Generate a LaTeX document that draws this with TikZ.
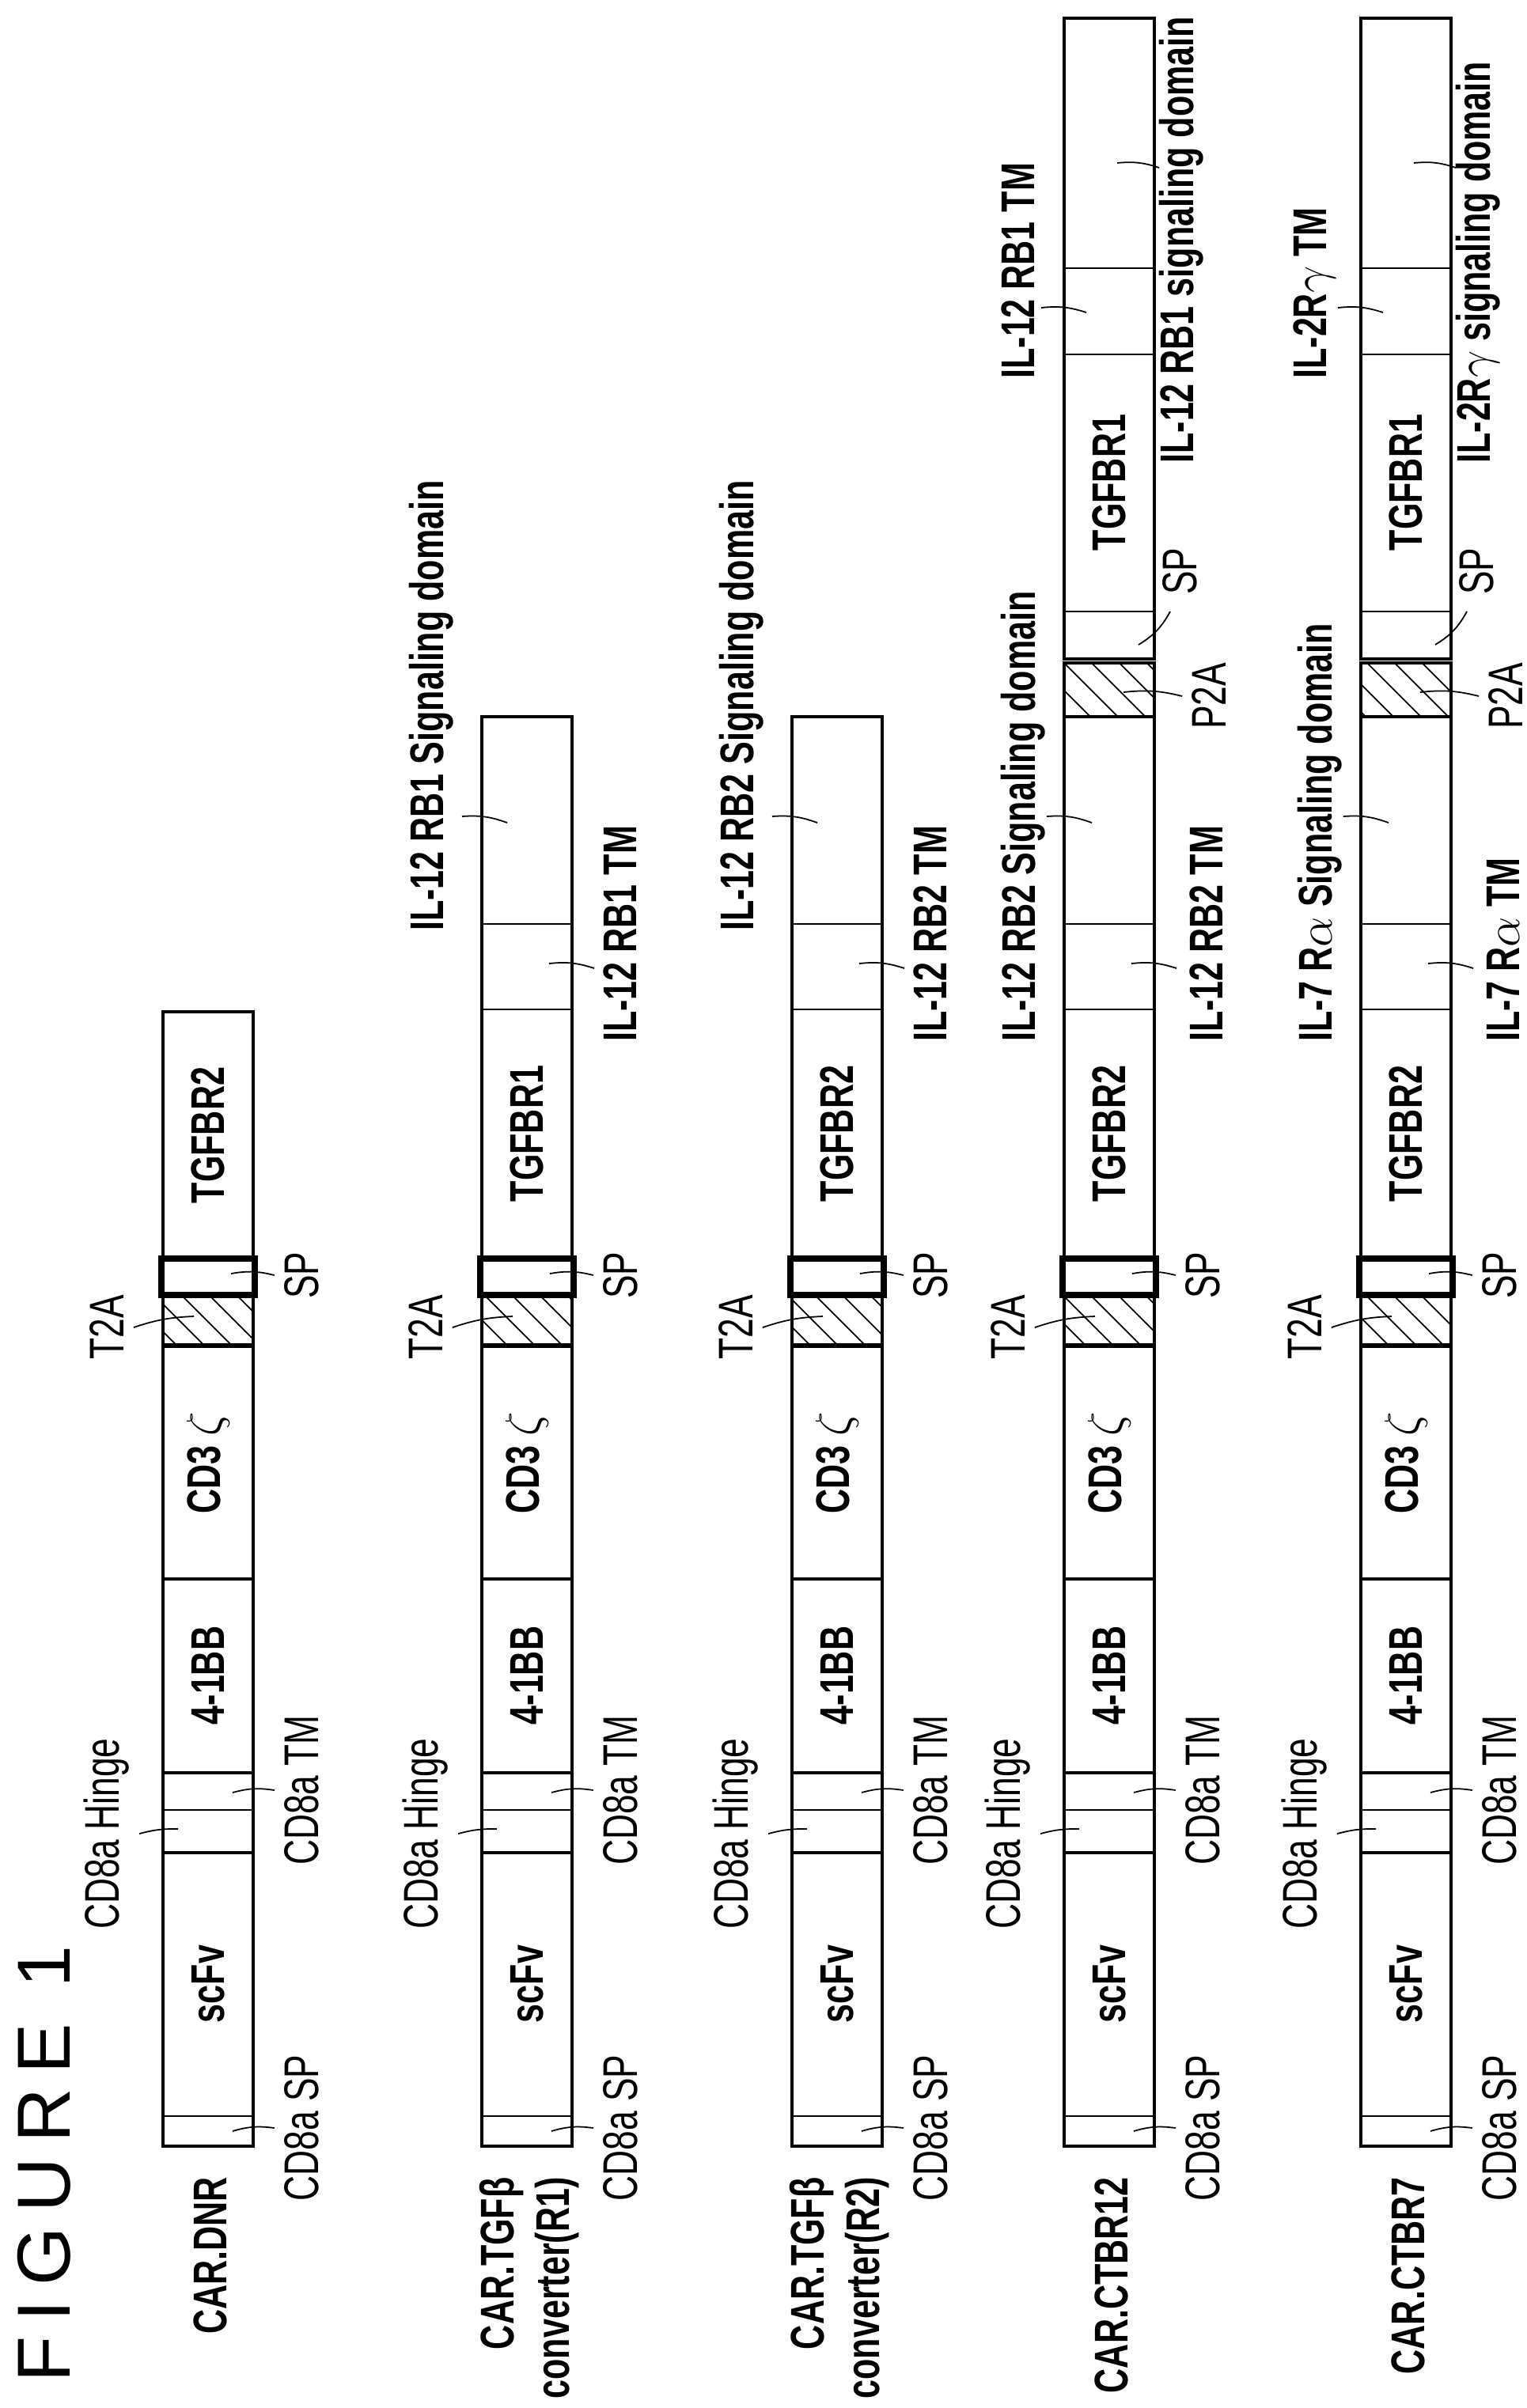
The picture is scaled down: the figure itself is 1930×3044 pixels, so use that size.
\documentclass[tikz,border=0pt]{standalone}
\usepackage{fontspec}
\setmainfont{Liberation Sans}[FakeStretch=0.72]
\newfontfamily\figfont{Liberation Sans}[LetterSpace=20]
\usetikzlibrary{patterns.meta}

\tikzset{
  part/.style={draw,line width=1pt,fill=white},
  hatched/.style={draw,line width=1pt,pattern={Lines[angle=-45,distance=7pt,line width=0.5pt]}},
  spbox/.style={draw,line width=2.2pt},
  divider/.style={line width=0.7pt},
  boxtext/.style={rotate=90,font=\fontsize{17}{19}\selectfont\bfseries},
  lbl/.style={rotate=90,font=\fontsize{17.5}{19}\selectfont},
  blbl/.style={rotate=90,font=\fontsize{17}{20}\selectfont\bfseries},
  lead/.style={line width=0.5pt},
}

\begin{document}
\begin{tikzpicture}[x=0.01cm,y=-0.01cm]
  \useasboundingbox[fill=white] (0,0) rectangle (1930,3044);

  \node[rotate=90,anchor=west,font=\figfont\fontsize{27}{29}\selectfont] (fig) at (56,3024) {FIGURE 1};

  % CAR part, the same in every row
  \foreach \i/\xl/\carname in {1/206/CAR.DNR,
      2/609/{CAR.TGFβ\\converter(R1)},
      3/1001/{CAR.TGFβ\\converter(R2)},
      4/1345/CAR.CTBR12,
      5/1720/CAR.CTBR7}{
    \draw[part] (\xl,2713) rectangle ({\xl+114},2342);
    \draw[divider] (\xl,2675) -- ({\xl+114},2675);
    \draw[part] (\xl,2342) rectangle ({\xl+114},2241);
    \draw[divider] (\xl,2288) -- ({\xl+114},2288);
    \draw[part] (\xl,2241) rectangle ({\xl+114},1996);
    \draw[part] (\xl,1996) rectangle ({\xl+114},1702);
    \draw[hatched] (\xl,1700) rectangle ({\xl+114},1639);
    \node[boxtext] (scfv\i) at ({\xl+57},2508) {scFv};
    \node[boxtext] (bb\i) at ({\xl+57},2118) {4-1BB};
    \node[boxtext] (cd3\i) at ({\xl+57},1849) {CD3 $\zeta$};
    \node[blbl,anchor=east,align=right] (name\i) at ({\xl+60},2740) {\carname};
    \node[lbl] (cdsp\i) at ({\xl+175},2690) {CD8a SP};
    \node[lbl] (cdtm\i) at ({\xl+175},2263) {CD8a TM};
    \node[lbl] (hinge\i) at ({\xl-71},2318) {CD8a Hinge};
    \node[lbl] (tta\i) at ({\xl-71},1678) {T2A};
    \draw[lead] ({\xl+88},2694) to[bend left=12] (cdsp\i.north);
    \draw[lead] ({\xl+88},2266) to[bend left=12] (cdtm\i.north);
    \draw[lead] (hinge\i.south) to[bend left=8] ({\xl+19},2312);
    \draw[lead] (tta\i.south) to[bend left=8] ({\xl+39},1664);
  }

  % first receptor part
  \draw[part] (206,1591) rectangle (320,1279);
  \node[boxtext] (tgf1) at (263,1435) {TGFBR2};
  \foreach \i/\xl/\tgf/\rb in {2/609/TGFBR1/RB1, 3/1001/TGFBR2/RB2}{
    \draw[part] (\xl,1591) rectangle ({\xl+114},906);
    \draw[divider] (\xl,1276) -- ({\xl+114},1276);
    \draw[divider] (\xl,1168) -- ({\xl+114},1168);
    \node[boxtext] (tgf\i) at ({\xl+57},1433) {\tgf};
    \node[blbl,anchor=west] (tm\i) at ({\xl+175},1329) {IL-12 \rb\ TM};
    \node[blbl,anchor=west] (sig\i) at ({\xl-64},1189) {IL-12 \rb\ Signaling domain};
    \draw[lead] ({\xl+85},1218) to[bend left=12] ({\xl+142},1224);
    \draw[lead] ({\xl-25},1032) to[bend left=12] ({\xl+32},1040);
  }
  \foreach \i/\xl/\sigA/\tmA/\tmB/\sigB in {
      4/1345/{IL-12 RB2 Signaling domain}/{IL-12 RB2 TM}/{IL-12 RB1 TM}/{IL-12 RB1 signaling domain},
      5/1720/{IL-7 R$\alpha$ Signaling domain}/{IL-7 R$\alpha$ TM}/{IL-2R$\gamma$ TM}/{IL-2R$\gamma$ signaling domain}}{
    \draw[part] (\xl,1591) rectangle ({\xl+114},906);
    \draw[divider] (\xl,1276) -- ({\xl+114},1276);
    \draw[divider] (\xl,1168) -- ({\xl+114},1168);
    \node[boxtext] (tgf\i) at ({\xl+57},1433) {TGFBR2};
    \node[blbl,anchor=west] (tm\i) at ({\xl+180},1329) {\tmA};
    \node[blbl,anchor=west] (sig\i) at ({\xl-52},1329) {\sigA};
    \draw[lead] ({\xl+85},1218) to[bend left=12] ({\xl+142},1224);
    \draw[lead] ({\xl-22},1032) to[bend left=12] ({\xl+35},1040);
    % second receptor part
    \draw[hatched] (\xl,906) rectangle ({\xl+114},838);
    \node[lbl] (pta\i) at ({\xl+183},880) {P2A};
    \draw[lead] ({\xl+75},875) to[bend left=10] (pta\i.north);
    \draw[part] (\xl,833) rectangle ({\xl+114},23);
    \draw[divider] (\xl,773) -- ({\xl+114},773);
    \draw[divider] (\xl,448) -- ({\xl+114},448);
    \draw[divider] (\xl,339) -- ({\xl+114},339);
    \node[boxtext] (tgfb\i) at ({\xl+57},610) {TGFBR1};
    \node[lbl] (spb\i) at ({\xl+146},722) {SP};
    \draw[lead] ({\xl+94},815) to[bend right=15] ({\xl+134},773);
    \node[blbl,anchor=west] (tmb\i) at ({\xl-58},491) {\tmB};
    \node[blbl,anchor=west] (sigb\i) at ({\xl+148},598) {\sigB};
    \draw[lead] ({\xl-29},389) to[bend left=12] ({\xl+28},395);
    \draw[lead] ({\xl+67},206) to[bend left=12] ({\xl+120},212);
  }

  % thick SP boxes in front
  \foreach \i/\xl in {1/206,2/609,3/1001,4/1345,5/1720}{
    \draw[spbox] ({\xl-2},1637) rectangle ({\xl+116},1591);
    \node[lbl] (sp\i) at ({\xl+175},1612) {SP};
    \draw[lead] ({\xl+86},1610) to[bend left=12] (sp\i.north);
  }
\end{tikzpicture}
\end{document}
